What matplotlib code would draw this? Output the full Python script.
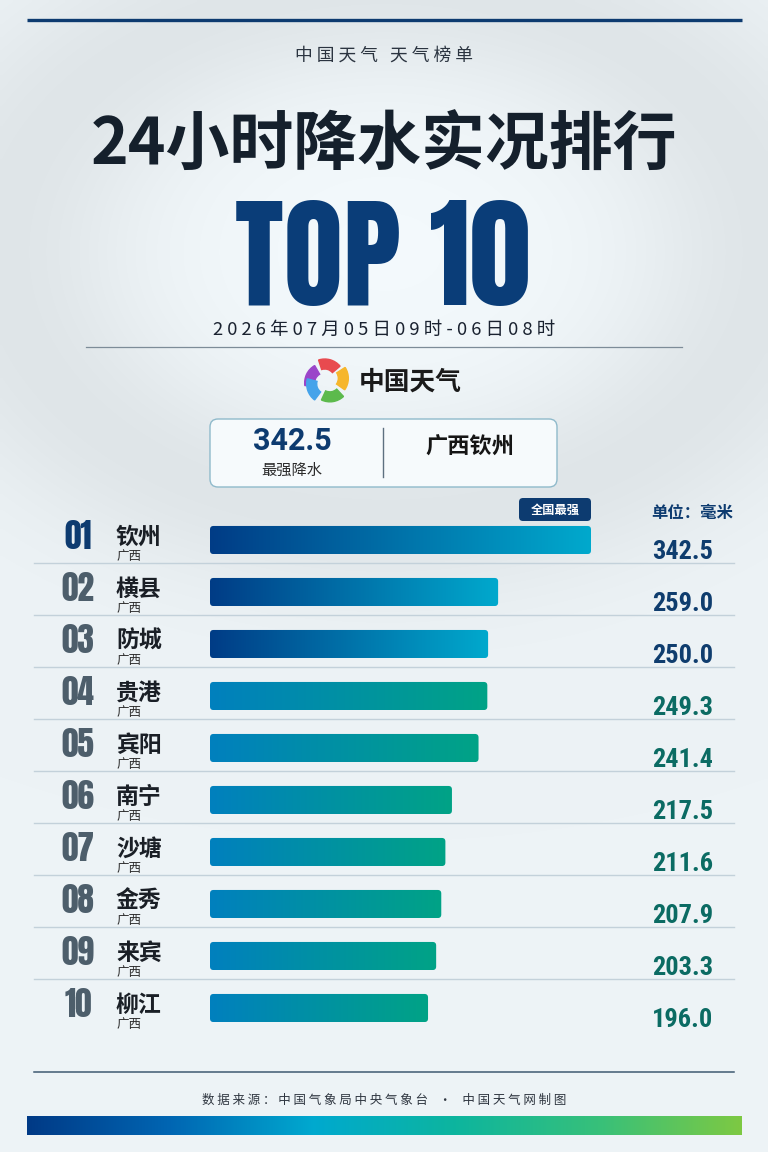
import numpy as np
import matplotlib
matplotlib.use('Agg')
import matplotlib.pyplot as plt
from matplotlib.patches import FancyBboxPatch, Wedge
from matplotlib.colors import LinearSegmentedColormap
import matplotlib.transforms as mtransforms

plt.rcParams['font.family'] = ['Noto Sans CJK SC', 'DejaVu Sans']

# ---------------- data ----------------
ranks = ['01', '02', '03', '04', '05', '06', '07', '08', '09', '10']
cities = ['钦州', '横县', '防城', '贵港', '宾阳', '南宁', '沙塘', '金秀', '来宾', '柳江']
provinces = ['广西'] * 10
values = [342.5, 259.0, 250.0, 249.3, 241.4, 217.5, 211.6, 207.9, 203.3, 196.0]
value_labels = ['342.5', '259.0', '250.0', '249.3', '241.4', '217.5', '211.6', '207.9', '203.3', '196.0']
n_highlight = 3

header_text = '中国天气 天气榜单'
title_text = '24小时降水实况排行'
big_text = 'TOP 10'
period_text = '2026年07月05日09时-06日08时'
logo_text = '中国天气'
max_value_text = '342.5'
max_label_text = '最强降水'
max_place_text = '广西钦州'
badge_text = '全国最强'
unit_text = '单位：毫米'
source_text = '数据来源：中国气象局中央气象台 · 中国天气网制图'

HEAVY = ['Anton', 'DejaVu Sans']
COND = ['Roboto Condensed', 'Oswald', 'Asap Condensed', 'DejaVu Sans']


def spaced(s):
    return ' '.join(s)


W, H = 768, 1152
fig = plt.figure(figsize=(W / 100, H / 100), dpi=100)

bg = fig.add_axes([0, 0, 1, 1])
bg.set_xlim(0, W)
bg.set_ylim(H, 0)
bg.axis('off')

gy, gx = np.mgrid[0:H:4, 0:W:4].astype(float)
r = np.sqrt(((gx - 384) / 360) ** 2 + ((gy - 250) / 250) ** 2)
base = np.array([237, 243, 246], float) / 255
shade = -0.055 * np.exp(-((r - 1.05) / 0.35) ** 2) + 0.025 * np.exp(-(r / 0.65) ** 2)
img = np.clip(base[None, None, :] + shade[..., None], 0, 1)
bg.imshow(img, extent=[0, W, H, 0], aspect='auto', interpolation='bilinear', zorder=0)

NAVY = '#0d3b70'

bg.plot([27, 742], [20, 20], color=NAVY, lw=2.4, solid_capstyle='butt', zorder=2)

bg.text(384, 56, spaced(header_text), ha='center', va='center', fontsize=12.8,
        color='#2b3440', zorder=3)
bg.text(384, 146, title_text, ha='center', va='center', fontsize=46, fontweight='bold',
        color='#15202c', zorder=3)
bg.text(383, 260, big_text, ha='center', va='center', fontsize=88,
        family=HEAVY, color='#0a3d78', zorder=3)
bg.text(384, 330, spaced(period_text), ha='center', va='center', fontsize=13.3,
        color='#1a2230', zorder=3)
bg.plot([86, 682], [347, 347], color='#7d8c98', lw=0.9, zorder=2)

petal_colors = ['#9b45c9', '#e84a4f', '#f6b62c', '#5cba4c', '#45a3ea']
petal_angles = [150, 70, -5, -85, -165]
for c, a in zip(petal_colors, petal_angles):
    th = np.deg2rad(a)
    cx, cy = 327 + 3 * np.cos(th + 1.2), 381 - 3 * np.sin(th + 1.2)
    bg.add_patch(Wedge((cx, cy), 20, -a - 38, -a + 30, width=10, color=c, zorder=3))
bg.text(410, 382, logo_text, ha='center', va='center', fontsize=18.5, fontweight='bold',
        color='#1a1a1a', zorder=3)

bg.add_patch(FancyBboxPatch((210, 419), 347, 68, boxstyle='round,pad=0,rounding_size=8',
                            facecolor='#f6fafc', edgecolor='#8fbacb', lw=1.0, zorder=2))
bg.plot([383, 383], [428, 477], color='#5d7080', lw=1.0, zorder=3)
bg.text(292, 441, max_value_text, ha='center', va='center', fontsize=22, fontweight='bold',
        family=['Roboto', 'DejaVu Sans'], color=NAVY, zorder=3)
bg.text(292, 470, max_label_text, ha='center', va='center', fontsize=11,
        color='#2b2b2b', zorder=3)
bg.text(470, 447, max_place_text, ha='center', va='center', fontsize=16, fontweight='bold',
        color='#151515', zorder=3)

bg.add_patch(FancyBboxPatch((519, 498), 72, 23, boxstyle='round,pad=0,rounding_size=4',
                            facecolor=NAVY, edgecolor='none', zorder=3))
bg.text(555, 510, badge_text, ha='center', va='center', fontsize=8.8, fontweight='bold',
        color='white', zorder=4)
bg.text(692, 513, unit_text, ha='center', va='center', fontsize=11.8, fontweight='bold',
        color=NAVY, zorder=3)

bg.plot([34, 734], [1072, 1072], color='#3f5a72', lw=1.1, zorder=2)
bg.text(384, 1100, spaced(source_text).replace('·', ' · '), ha='center', va='center',
        fontsize=9, color='#2f3640', zorder=3)
foot_cmap = LinearSegmentedColormap.from_list(
    'foot', ['#003a86', '#0066b3', '#00a9cf', '#0db59e', '#37c07a', '#7dc943'])
bg.imshow(np.linspace(0, 1, 256)[None, :], cmap=foot_cmap, extent=[27, 742, 1135, 1116],
          aspect='auto', zorder=2)
bg.set_xlim(0, W)
bg.set_ylim(H, 0)

# ---------------- bars ----------------
ax = fig.add_axes([210 / W, 1 - 1034 / H, 381 / W, 520 / H])
ax.set_facecolor('none')
ax.axis('off')
n = len(values)
xmax = max(values)
top_cmap = LinearSegmentedColormap.from_list('top', ['#003c86', '#00a9cd'])
rest_cmap = LinearSegmentedColormap.from_list('rest', ['#0080be', '#00a386'])
bar_h = 0.54
px_x = xmax / 381.0
px_y = 1 / 52.0
for i, v in enumerate(values):
    patch = FancyBboxPatch((0, i - bar_h / 2), v, bar_h,
                           boxstyle=f'round,pad=0,rounding_size={3.5 * px_x}',
                           mutation_aspect=px_y / px_x,
                           facecolor='none', edgecolor='none')
    ax.add_patch(patch)
    cm = top_cmap if i < n_highlight else rest_cmap
    im = ax.imshow(np.linspace(0, 1, 256)[None, :], cmap=cm,
                   extent=[0, v, i + bar_h / 2, i - bar_h / 2], aspect='auto', zorder=2)
    im.set_clip_path(patch)
ax.set_xlim(0, xmax)
ax.set_ylim(n - 0.5, -0.5)

blend = mtransforms.blended_transform_factory(bg.transData, ax.transData)
for i in range(n):
    hi = i < n_highlight
    ax.text(78, i - 0.06, ranks[i], transform=blend, ha='center', va='center',
            fontsize=24, family=HEAVY,
            color=NAVY if i == 0 else '#4d5e6b', clip_on=False)
    ax.text(116, i - 0.05, cities[i], transform=blend, ha='left', va='center',
            fontsize=16.5, fontweight='heavy', color='#1a1f26', clip_on=False)
    ax.text(117, i + 0.32, provinces[i], transform=blend, ha='left', va='center',
            fontsize=9, color='#2a2a2a', clip_on=False)
    ax.text(713, i + 0.23, value_labels[i], transform=blend, ha='right', va='center',
            fontsize=19, fontweight='bold', family=COND,
            color='#0f3d6e' if hi else '#0b6b63', clip_on=False)
    if i < n - 1:
        ax.plot([34, 734], [i + 0.44, i + 0.44], transform=blend, color='#c3d1da',
                lw=1.0, clip_on=False, zorder=1)

fig.savefig('out.png', dpi=100)
